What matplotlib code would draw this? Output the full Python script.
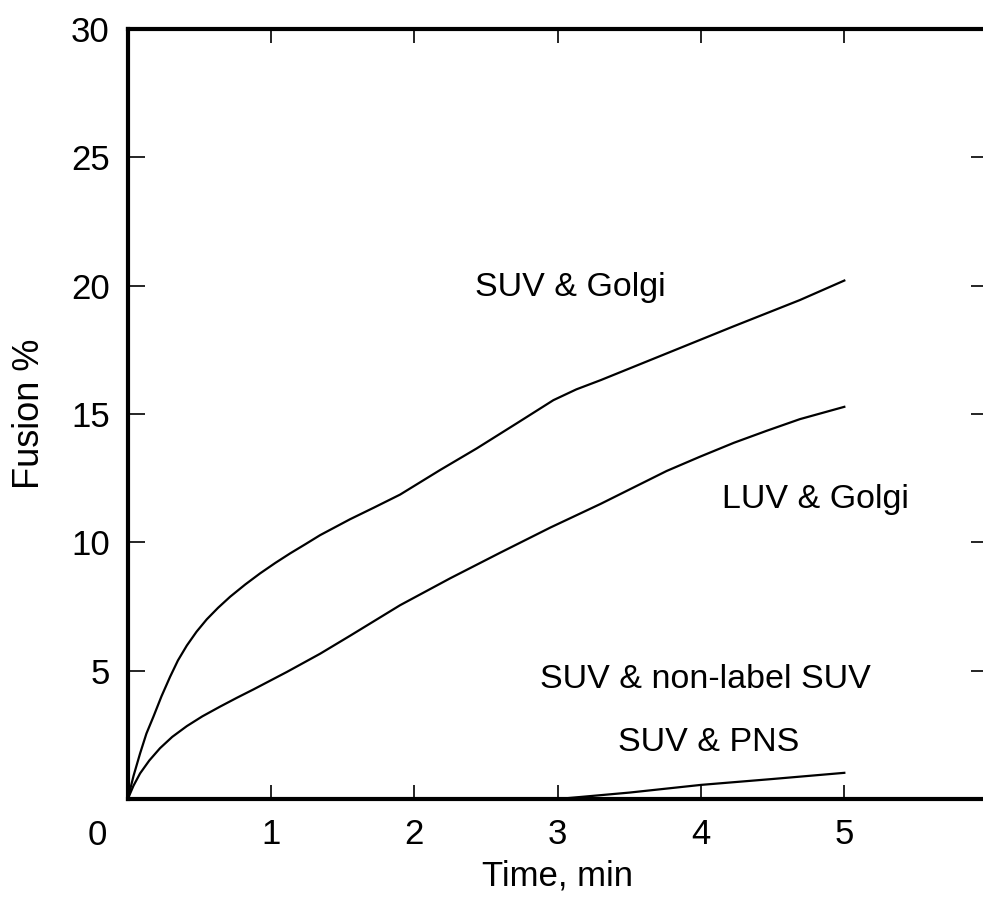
import matplotlib
matplotlib.use("Agg")
import matplotlib.pyplot as plt

plt.rcParams['font.family'] = ['Liberation Sans', 'DejaVu Sans']

# fusion kinetics, % vs time (min)
t_suv_golgi = [0, 0.04, 0.086, 0.13, 0.179, 0.235, 0.295, 0.35, 0.412, 0.48,
               0.551, 0.63, 0.714, 0.82, 0.923, 1.03, 1.133, 1.24, 1.342,
               1.551, 1.72, 1.90, 2.18, 2.435, 2.715, 2.97, 3.13, 3.30, 3.76,
               4.22, 4.69, 5.0]
y_suv_golgi = [0, 0.9, 1.78, 2.55, 3.21, 4.0, 4.76, 5.4, 5.98, 6.52,
               7.0, 7.45, 7.88, 8.36, 8.79, 9.2, 9.57, 9.93, 10.28,
               10.9, 11.36, 11.86, 12.82, 13.66, 14.64, 15.54, 15.96, 16.32, 17.36,
               18.4, 19.44, 20.2]

t_luv_golgi = [0, 0.04, 0.086, 0.15, 0.225, 0.31, 0.412, 0.52, 0.644, 0.76,
               0.877, 1.11, 1.342, 1.551, 1.90, 2.25, 2.60, 2.95, 3.30, 3.76,
               3.99, 4.23, 4.46, 4.69, 5.0]
y_luv_golgi = [0, 0.52, 1.0, 1.5, 1.98, 2.42, 2.84, 3.22, 3.6, 3.94,
               4.27, 4.95, 5.66, 6.36, 7.55, 8.6, 9.6, 10.58, 11.5, 12.78,
               13.33, 13.88, 14.35, 14.8, 15.28]

t_suv_pns = [3.0, 3.5, 4.0, 4.5, 5.0]
y_suv_pns = [0, 0.25, 0.55, 0.78, 1.02]

labels = ["SUV & Golgi", "LUV & Golgi", "SUV & non-label SUV", "SUV & PNS"]
label_xy = [(3.09, 20.08), (4.80, 11.8), (4.03, 4.81), (4.05, 2.32)]

x_ticks = [1, 2, 3, 4, 5]
y_ticks = [5, 10, 15, 20, 25, 30]

fig = plt.figure(figsize=(9.83, 9.01), dpi=100)
ax = fig.add_axes([0.13, 0.1132, 0.8747, 0.8546])

for t, y in [(t_suv_golgi, y_suv_golgi), (t_luv_golgi, y_luv_golgi),
             (t_suv_pns, y_suv_pns)]:
    ax.plot(t, y, color='black', lw=1.6, solid_joinstyle='round')

for lab, (lx, ly) in zip(labels, label_xy):
    ax.text(lx, ly, lab, fontsize=24.5, ha='center', va='center_baseline')

ax.set_xlim(0, 6)
ax.set_ylim(0, 30)
ax.set_xticks(x_ticks)
ax.set_yticks(y_ticks)
ax.tick_params(axis='both', direction='in', width=1.2, labelsize=25,
               top=True, right=True)
ax.tick_params(axis='y', length=12, pad=13)
ax.tick_params(axis='x', length=10, pad=14)

for side in ['left', 'bottom', 'top', 'right']:
    ax.spines[side].set_linewidth(3)

# shared origin label
ax.annotate("0", xy=(0, 0), xytext=(-22.3, -33), textcoords='offset points',
            fontsize=25, ha='center', va='baseline', annotation_clip=False)

ax.set_xlabel("Time, min", fontsize=25, labelpad=6)
ax.set_ylabel("Fusion %", fontsize=26, labelpad=17)

fig.savefig("out.png", dpi=100)
